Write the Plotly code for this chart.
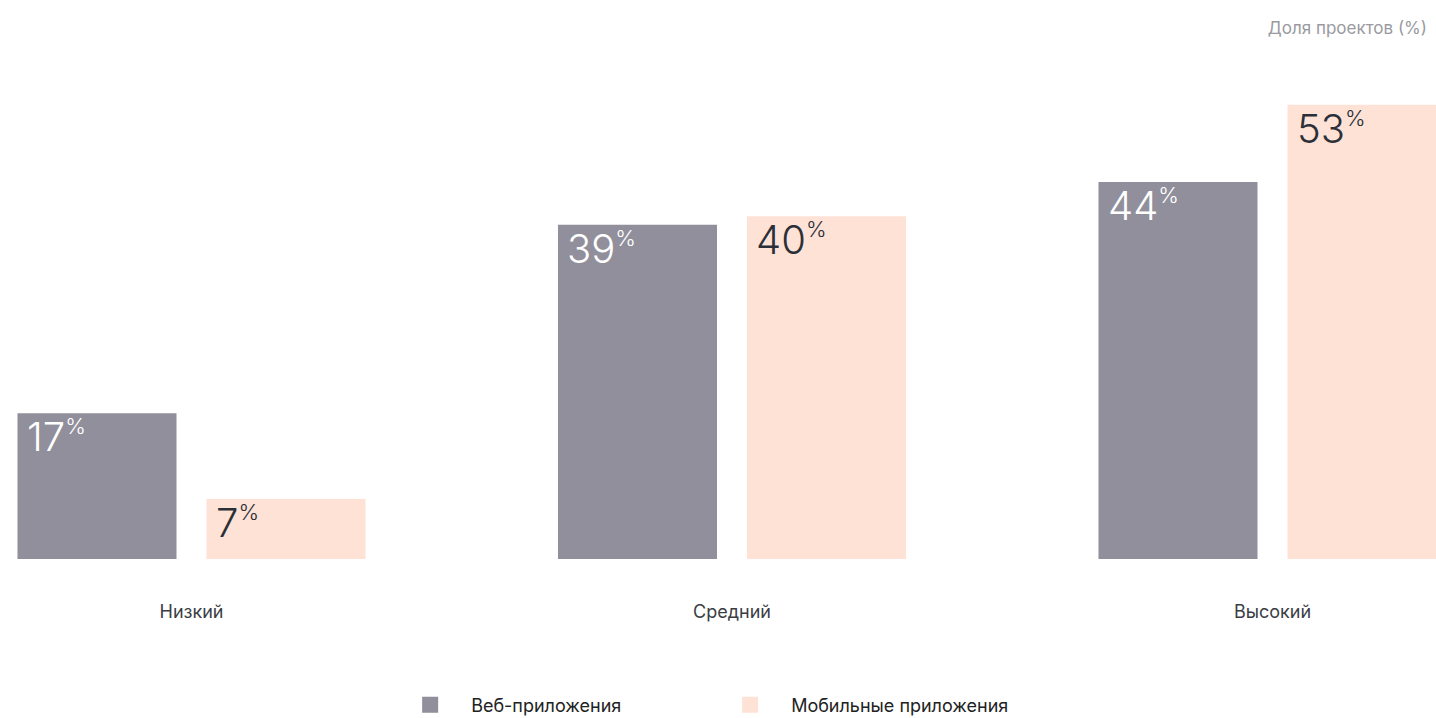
import plotly.graph_objects as go

categories = ["Низкий", "Средний", "Высокий"]
web_values = [17, 39, 44]
mobile_values = [7, 40, 53]
series_names = ["Веб-приложения", "Мобильные приложения"]
axis_title = "Доля проектов (%)"

WEB_COLOR = "#918F9B"
MOB_COLOR = "#FFE2D6"
DARK = "#2B3038"
FONT = "Inter, Roboto, sans-serif"

fig = go.Figure()
fig.add_trace(go.Bar(x=categories, y=web_values, marker_color=WEB_COLOR,
                     marker_line_width=0, showlegend=False, hoverinfo="skip"))
fig.add_trace(go.Bar(x=categories, y=mobile_values, marker_color=MOB_COLOR,
                     marker_line_width=0, showlegend=False, hoverinfo="skip"))

# legend-only entries (bigger square keys)
for name, col in zip(series_names, [WEB_COLOR, MOB_COLOR]):
    fig.add_trace(go.Scatter(x=[None], y=[None], mode="markers", name=name,
                             marker=dict(symbol="square", size=16, color=col)))

# value labels at the top-left inside each bar
for vals, shift, col in [(web_values, -167, "white"), (mobile_values, 22, DARK)]:
    for c, v in zip(categories, vals):
        fig.add_annotation(x=c, y=v, xref="x", yref="y", xanchor="left", yanchor="top",
                           xshift=shift, yshift=3, showarrow=False,
                           text=f"{v}<sup><span style='font-size:22px'>%</span></sup>",
                           font=dict(family=FONT, size=40, color=col, weight=300))

fig.update_layout(
    width=1436, height=718,
    margin=dict(l=0, r=0, t=59, b=159),
    paper_bgcolor="white", plot_bgcolor="white",
    barmode="group", bargap=0.3006, bargroupgap=0.1587,
    font=dict(family=FONT, color=DARK),
    title=dict(text=axis_title, x=1427/1436, xanchor="right", xref="container",
               y=1 - 28/718, yanchor="middle", yref="container",
               font=dict(family=FONT, size=17, color="#9A9AA0")),
    xaxis=dict(range=[-0.3543, 2.3025], showgrid=False, zeroline=False, showline=False,
               ticks="outside", ticklen=36, tickcolor="rgba(0,0,0,0)",
               tickfont=dict(family=FONT, size=18, color="#3A3D44")),
    yaxis=dict(range=[0, 58.34], visible=False, showgrid=False),
    legend=dict(orientation="h", x=0.271, xanchor="left", y=1 - 705/718, yanchor="middle",
                yref="container", font=dict(family=FONT, size=18, color="#222"),
                entrywidth=233, entrywidthmode="pixels", itemwidth=72,
                bgcolor="rgba(0,0,0,0)"),
)

fig.write_html("out.html", config={"displayModeBar": False},
               post_script="document.body.style.margin='0';")
